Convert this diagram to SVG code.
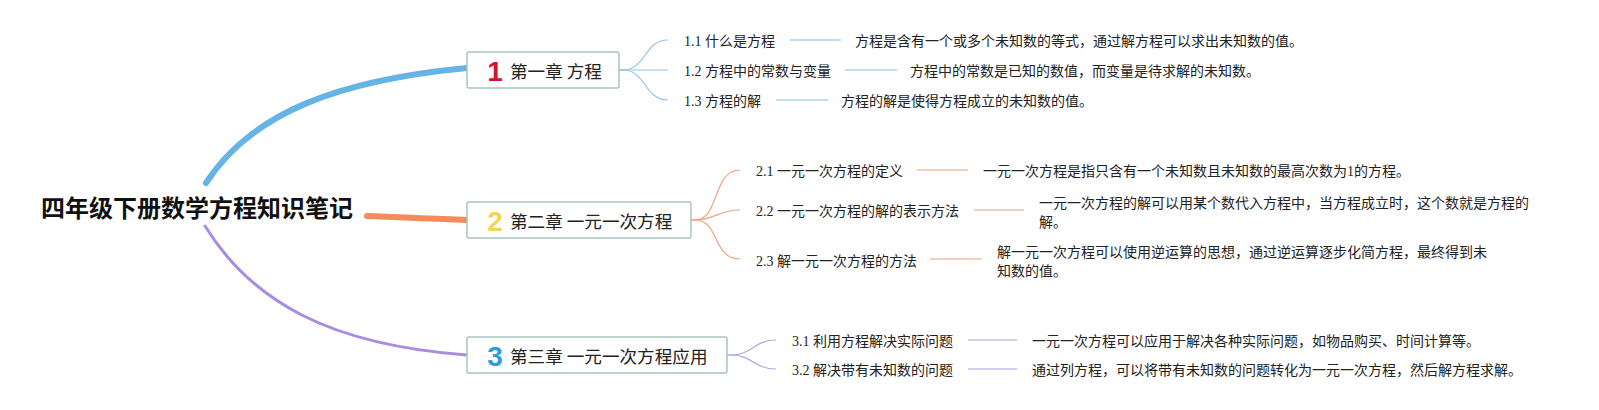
<svg xmlns="http://www.w3.org/2000/svg" width="1599" height="410" viewBox="0 0 1599 410">
<style>
text{font-family:"Liberation Serif","Noto Sans CJK SC",serif;fill:#222;dominant-baseline:central}
.title{font-family:"Noto Sans CJK SC","Liberation Sans",sans-serif;font-weight:bold;font-size:24px;fill:#111}
.box{fill:#fff;stroke:#a6c6bc;stroke-width:1.5}
.ch{font-family:"Noto Sans CJK SC","Liberation Sans",sans-serif;font-size:17.6px;fill:#222}
.num{font-family:"Liberation Sans","DejaVu Sans",sans-serif;font-weight:bold;font-size:28px;text-anchor:middle}
.sub{font-size:14px}
.desc{font-size:14px}
.b{fill:none;stroke-linecap:round}
.bl{stroke:#8fc6ea;stroke-width:1.2;fill:none}
.or{stroke:#f2a37f;stroke-width:1.2;fill:none}
.pu{stroke:#baa4e6;stroke-width:1.2;fill:none}
.lbl{stroke:#acd3ee;stroke-width:1.5}
.lor{stroke:#f4c1a5;stroke-width:1.5}
.lpu{stroke:#cbbbea;stroke-width:1.5}
</style>
<rect width="1599" height="410" fill="#fff"/>
<g id="connectors">
  <path class="b" d="M 206 183 C 252 112, 340 80, 467 68" stroke="#66b3e5" stroke-width="6"/>
  <path class="b" d="M 367 216 C 400 217, 430 219, 467 220" stroke="#f48b5c" stroke-width="6"/>
  <path class="b" d="M 205 226 C 252 302, 330 345, 467 355" stroke="#a98ce0" stroke-width="3"/>
  <path class="bl" d="M 619 70 L 623 70 C 646 70, 644 40, 668 40"/>
  <path class="bl" d="M 619 70 L 668 70"/>
  <path class="bl" d="M 619 70 L 623 70 C 646 70, 644 100, 668 100"/>
  <path class="or" d="M 691 220 L 695 220 C 720 220, 712 170, 740 170"/>
  <path class="or" d="M 691 220 L 695 220 C 715 220, 718 210, 740 210"/>
  <path class="or" d="M 691 220 L 695 220 C 720 220, 712 259, 740 259"/>
  <path class="pu" d="M 727 355 L 731 355 C 752 355, 754 340, 776 340"/>
  <path class="pu" d="M 727 355 L 731 355 C 752 355, 754 369, 776 369"/>
  <line class="lbl" x1="790" y1="40" x2="841" y2="40"/>
  <line class="lbl" x1="845" y1="70" x2="897" y2="70"/>
  <line class="lbl" x1="776" y1="100" x2="828" y2="100"/>
  <line class="lor" x1="917" y1="170" x2="968" y2="170"/>
  <line class="lor" x1="974" y1="210" x2="1024" y2="210"/>
  <line class="lor" x1="930" y1="259" x2="982" y2="259"/>
  <line class="lpu" x1="968" y1="340" x2="1017" y2="340"/>
  <line class="lpu" x1="968" y1="369" x2="1017" y2="369"/>
</g>
<g id="root">
  <text class="title" x="41" y="206">四年级下册数学方程知识笔记</text>
</g>
<g id="ch1">
  <rect class="box" x="467" y="52" width="152" height="36" rx="2"/>
  <text class="num" x="495" y="71" style="fill:#d4132c">1</text>
  <text class="ch" x="510" y="70">第一章 方程</text>
</g>
<g id="ch2">
  <rect class="box" x="467" y="202" width="224" height="36" rx="2"/>
  <text class="num" x="495" y="221" style="fill:#f2d64e">2</text>
  <text class="ch" x="510" y="220">第二章 一元一次方程</text>
</g>
<g id="ch3">
  <rect class="box" x="467" y="337" width="260" height="36" rx="2"/>
  <text class="num" x="495" y="356" style="fill:#2b9de0">3</text>
  <text class="ch" x="510" y="355">第三章 一元一次方程应用</text>
</g>
<g id="s11"><text class="sub" x="684" y="41">1.1 什么是方程</text></g>
<g id="d11"><text class="desc" x="855" y="41">方程是含有一个或多个未知数的等式，通过解方程可以求出未知数的值。</text></g>
<g id="s12"><text class="sub" x="684" y="71">1.2 方程中的常数与变量</text></g>
<g id="d12"><text class="desc" x="910" y="71">方程中的常数是已知的数值，而变量是待求解的未知数。</text></g>
<g id="s13"><text class="sub" x="684" y="101">1.3 方程的解</text></g>
<g id="d13"><text class="desc" x="841" y="101">方程的解是使得方程成立的未知数的值。</text></g>
<g id="s21"><text class="sub" x="756" y="171">2.1 一元一次方程的定义</text></g>
<g id="d21"><text class="desc" x="983" y="171">一元一次方程是指只含有一个未知数且未知数的最高次数为1的方程。</text></g>
<g id="s22"><text class="sub" x="756" y="211">2.2 一元一次方程的解的表示方法</text></g>
<g id="d22"><text class="desc" x="1039" y="203">一元一次方程的解可以用某个数代入方程中，当方程成立时，这个数就是方程的</text><text class="desc" x="1039" y="222">解。</text></g>
<g id="s23"><text class="sub" x="756" y="261">2.3 解一元一次方程的方法</text></g>
<g id="d23"><text class="desc" x="997" y="252">解一元一次方程可以使用逆运算的思想，通过逆运算逐步化简方程，最终得到未</text><text class="desc" x="997" y="271">知数的值。</text></g>
<g id="s31"><text class="sub" x="792" y="341">3.1 利用方程解决实际问题</text></g>
<g id="d31"><text class="desc" x="1032" y="341">一元一次方程可以应用于解决各种实际问题，如物品购买、时间计算等。</text></g>
<g id="s32"><text class="sub" x="792" y="370">3.2 解决带有未知数的问题</text></g>
<g id="d32"><text class="desc" x="1032" y="370">通过列方程，可以将带有未知数的问题转化为一元一次方程，然后解方程求解。</text></g>
</svg>
